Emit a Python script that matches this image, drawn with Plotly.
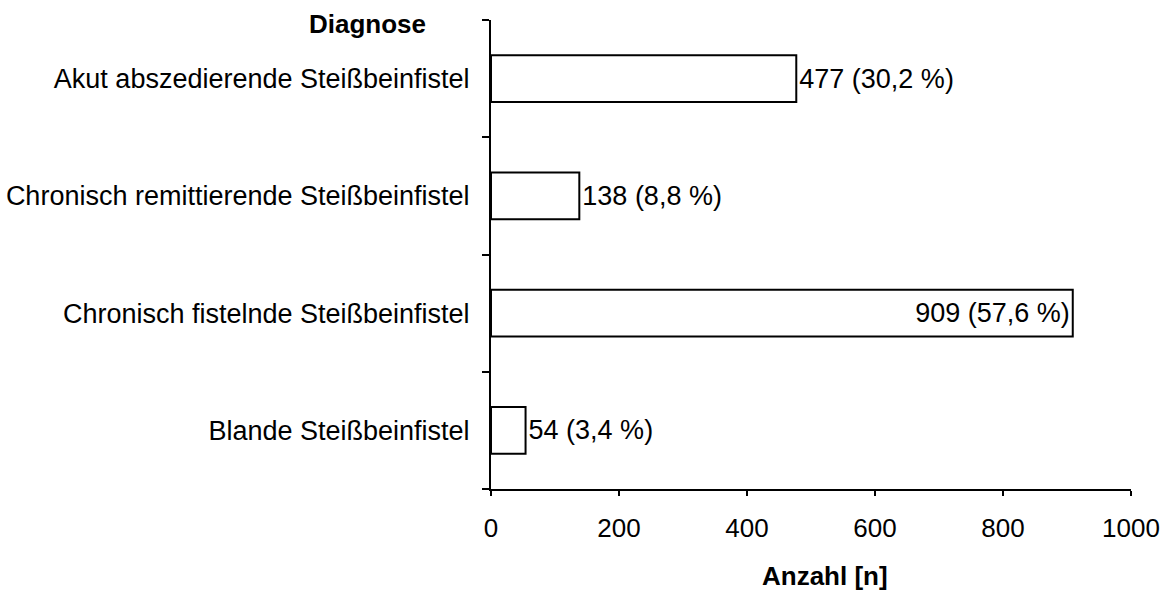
import plotly.graph_objects as go

categories = [
    "Akut abszedierende Steißbeinfistel",
    "Chronisch remittierende Steißbeinfistel",
    "Chronisch fistelnde Steißbeinfistel",
    "Blande Steißbeinfistel",
]
counts = [477, 138, 909, 54]
percents = ["30,2", "8,8", "57,6", "3,4"]
text_positions = ["outside", "outside", "inside", "outside"]
x_ticks = [0, 200, 400, 600, 800, 1000]

labels = [f"{c} ({p} %)" for c, p in zip(counts, percents)]

FONT = "Liberation Sans, Arial, sans-serif"
FS = 27

fig = go.Figure(
    go.Bar(
        x=counts,
        y=categories,
        orientation="h",
        text=labels,
        textposition=text_positions,
        insidetextanchor="end",
        textfont=dict(family=FONT, size=FS, color="black"),
        insidetextfont=dict(family=FONT, size=FS, color="black"),
        outsidetextfont=dict(family=FONT, size=FS, color="black"),
        marker=dict(color="white", line=dict(color="black", width=2)),
        cliponaxis=False,
        constraintext="none",
    )
)

fig.update_layout(
    width=1161,
    height=592,
    margin=dict(l=491, r=30, t=20, b=103, autoexpand=False),
    paper_bgcolor="white",
    plot_bgcolor="white",
    bargap=0.6,
    showlegend=False,
    font=dict(family=FONT, size=FS, color="black"),
    uniformtext=dict(mode=False),
)

fig.update_xaxes(
    range=[0, 1000],
    tickvals=x_ticks,
    ticktext=[str(v) for v in x_ticks],
    showgrid=False,
    zeroline=False,
    showline=True,
    linecolor="black",
    linewidth=2,
    ticks="outside",
    ticklen=5,
    tickwidth=2,
    tickcolor="black",
    ticklabelstandoff=10,
    ticklabeloverflow="allow",
    automargin=False,
    tickfont=dict(family=FONT, size=26, color="black"),
)

fig.update_yaxes(
    categoryorder="array",
    categoryarray=categories[::-1],
    range=[-0.5, 3.5],
    showgrid=False,
    zeroline=False,
    showline=True,
    linecolor="black",
    linewidth=2,
    ticks="outside",
    tickson="boundaries",
    ticklen=7,
    tickwidth=2,
    tickcolor="black",
    ticklabelstandoff=14,
    automargin=False,
    tickfont=dict(family=FONT, size=FS, color="black"),
)

fig.add_annotation(
    text="<b>Diagnose</b>",
    xref="paper", yref="paper",
    x=-(491 - 428) / 640, y=1 - (24 - 20) / 469,
    xanchor="right", yanchor="middle",
    showarrow=False,
    font=dict(family=FONT, size=26, color="black"),
)

fig.add_annotation(
    text="<b>Anzahl [n]</b>",
    xref="paper", yref="paper",
    x=(825 - 491) / 640, y=-(576 - 489) / 469,
    xanchor="center", yanchor="middle",
    showarrow=False,
    font=dict(family=FONT, size=26, color="black"),
)

fig.write_html("out.html")
